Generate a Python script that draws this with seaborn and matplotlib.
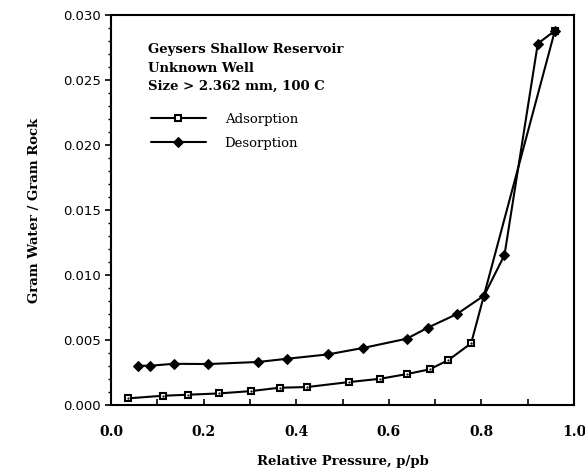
import numpy as np
import pandas as pd
import matplotlib
matplotlib.use("Agg")
import matplotlib.pyplot as plt
import seaborn as sns
from matplotlib.ticker import MultipleLocator

# adsorption / desorption isotherm values
ads_p = [0.036, 0.111, 0.165, 0.233, 0.302, 0.364, 0.423, 0.513, 0.582, 0.639, 0.688, 0.729, 0.778, 0.959]
ads_w = [0.00052, 0.00072, 0.0008, 0.0009, 0.00108, 0.00134, 0.00139, 0.00177, 0.00203, 0.00239, 0.00275, 0.00347, 0.00476, 0.0288]
des_p = [0.959, 0.922, 0.850, 0.806, 0.747, 0.685, 0.639, 0.545, 0.468, 0.381, 0.318, 0.210, 0.135, 0.085, 0.058]
des_w = [0.0288, 0.0278, 0.01154, 0.00843, 0.0070, 0.00597, 0.00511, 0.0044, 0.0039, 0.00357, 0.00332, 0.00316, 0.00318, 0.00303, 0.00303]

x_ticks = [0.0, 0.2, 0.4, 0.6, 0.8, 1.0]
y_ticks = [0.000, 0.005, 0.010, 0.015, 0.020, 0.025, 0.030]

ads = pd.DataFrame({"p": ads_p, "w": ads_w})
des = pd.DataFrame({"p": des_p, "w": des_w})

sns.set_style("ticks")
plt.rcParams["text.color"] = "black"
plt.rcParams["axes.labelcolor"] = "black"
plt.rcParams["xtick.color"] = "black"
plt.rcParams["ytick.color"] = "black"
serif = "DejaVu Serif"

fig = plt.figure(figsize=(5.85, 4.7), dpi=100)
ax = fig.add_axes([0.190, 0.138, 0.791, 0.830])

sns.lineplot(data=ads, x="p", y="w", sort=False, color="black", lw=1.5,
             marker="s", markersize=4.5, markerfacecolor="white",
             markeredgecolor="black", markeredgewidth=1.5, ax=ax, label="Adsorption")
sns.lineplot(data=des, x="p", y="w", sort=False, color="black", lw=1.5,
             marker="D", markersize=5, markerfacecolor="black",
             markeredgecolor="black", ax=ax, label="Desorption")
# small dot in the squares
ax.plot(ads["p"], ads["w"], ls="none", marker=".", markersize=1.2, color="black")

ax.set_xlim(0, 1.0)
ax.set_ylim(0, 0.030)
ax.set_xticks(x_ticks)
ax.set_yticks(y_ticks)
ax.xaxis.set_minor_locator(MultipleLocator(0.1))
ax.yaxis.set_minor_locator(MultipleLocator(0.001))
ax.set_xticklabels([f"{v:.1f}" for v in x_ticks], fontfamily=serif, fontweight="bold", fontsize=10)
ax.set_yticklabels([f"{v:.3f}" for v in y_ticks], fontfamily="DejaVu Sans", fontsize=9.5)
ax.tick_params(axis="x", which="both", direction="in", length=4, width=1.2, pad=14)
ax.tick_params(axis="y", which="major", direction="out", length=4, width=1.2)
ax.tick_params(axis="y", which="minor", direction="out", length=2, width=1.0)
for s in ax.spines.values():
    s.set_linewidth(1.5)
    s.set_color("black")

ax.set_xlabel("Relative Pressure, p/pb", fontfamily=serif, fontweight="bold", fontsize=9.5, labelpad=12)
ax.set_ylabel("Gram Water / Gram Rock", fontfamily=serif, fontweight="bold", fontsize=9.5, labelpad=16)

ax.text(0.08, 0.928, "Geysers Shallow Reservoir\nUnknown Well\nSize > 2.362 mm, 100 C",
        transform=ax.transAxes, va="top", ha="left", fontfamily=serif,
        fontweight="bold", fontsize=9.5, linespacing=1.55)

leg = ax.legend(loc="upper left", bbox_to_anchor=(0.06, 0.78), frameon=False,
                handlelength=4.2, handletextpad=1.4, labelspacing=0.85,
                prop={"family": serif, "size": 9.5})

fig.savefig("out.png", dpi=100)
